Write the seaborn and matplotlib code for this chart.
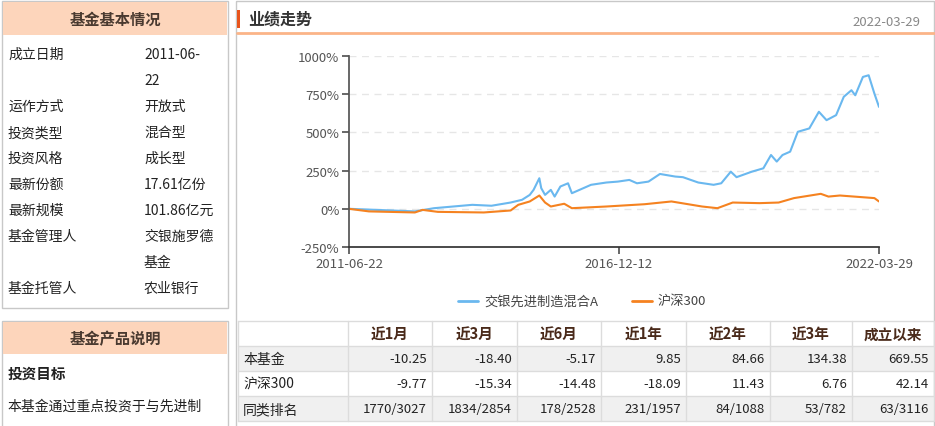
import matplotlib
matplotlib.use("Agg")
import matplotlib.pyplot as plt
import seaborn as sns
import pandas as pd
import numpy as np
from matplotlib.patches import Rectangle

sns.set_theme(style="white")
plt.rcParams['font.family'] = ['Noto Sans CJK SC', 'DejaVu Sans']

W, H = 935, 427
# --- data ---
info_labels = ["成立日期", "", "运作方式", "投资类型", "投资风格", "最新份额", "最新规模", "基金管理人", "", "基金托管人"]
info_values = ["2011-06-", "22", "开放式", "混合型", "成长型", "17.61亿份", "101.86亿元", "交银施罗德", "基金", "农业银行"]

fund_pos = [128,300,350,400,450,500,550,580,600,610,625,630,640,655,665,680,700,710,730,760,800,830,860,880,910,940,
            980,1000,1040,1080,1100,1125,1140,1180,1210,1230,1245,1260,1280,1300,1330,1355,1375,1400,1420,1440,1450,1470,1485,1500,1512]
fund_val = [0,-17,4,15,26,20,41,59,91,124,200,135,91,124,80,146,167,102,124,157,172,178,189,167,178,228,
            211,207,172,157,167,243,207,243,265,352,309,352,374,504,526,635,580,613,733,776,743,863,874,754,667]
idx_pos = [128,180,300,320,360,480,550,570,600,625,640,655,690,710,800,900,970,1050,1090,1130,1200,1250,1290,1360,1380,1410,1500,1512]
idx_val = [0,-17,-24,-7,-20,-24,-11,26,48,87,41,15,33,4,15,30,48,15,4,41,37,41,70,98,80,87,70,48]

periods = ["近1月", "近3月", "近6月", "近1年", "近2年", "近3年", "成立以来"]
row_names = ["本基金", "沪深300", "同类排名"]
fund_ret = ["-10.25", "-18.40", "-5.17", "9.85", "84.66", "134.38", "669.55"]
idx_ret = ["-9.77", "-15.34", "-14.48", "-18.09", "11.43", "6.76", "42.14"]
rank = ["1770/3027", "1834/2854", "178/2528", "231/1957", "84/1088", "53/782", "63/3116"]

start = pd.Timestamp("2011-06-22"); end = pd.Timestamp("2022-03-29")
span = (end - start)
def to_date(p):
    return [start + span * ((x - 128) / 1384) for x in p]

fig = plt.figure(figsize=(W/100, H/100), dpi=100)
bg = fig.add_axes([0, 0, 1, 1])
bg.set_xlim(0, W); bg.set_ylim(H, 0); bg.axis("off")

border = "#c8c8c8"
peach = "#fdd5bb"
# left box 1
bg.add_patch(Rectangle((2, 2), 226, 307, fill=False, ec=border, lw=1))
bg.add_patch(Rectangle((3, 3), 224, 33, color=peach, lw=0))
bg.text(115, 20, "基金基本情况", ha="center", va="center", fontsize=11, weight="bold", color="#4a3a30")
for i, (l, v) in enumerate(zip(info_labels, info_values)):
    y = 55 + 26 * i
    bg.text(8, y, l, va="center", fontsize=10, color="#222")
    bg.text(144, y, v, va="center", fontsize=10, color="#222")
# left box 2
bg.add_patch(Rectangle((2, 322), 226, 110, fill=False, ec=border, lw=1))
bg.add_patch(Rectangle((3, 323), 224, 32, color=peach, lw=0))
bg.text(115, 339, "基金产品说明", ha="center", va="center", fontsize=11, weight="bold", color="#4a3a30")
bg.text(8, 374, "投资目标", va="center", fontsize=10.5, weight="bold", color="#222")
bg.text(8, 407, "本基金通过重点投资于与先进制", va="center", fontsize=10, color="#222")

# right panel
bg.add_patch(Rectangle((236, 2), 698, 430, fill=False, ec=border, lw=1))
bg.add_patch(Rectangle((237, 11), 3, 18, color="#e8541c", lw=0))
bg.text(248, 20, "业绩走势", va="center", fontsize=11.5, weight="bold", color="#333")
bg.text(920, 22, "2022-03-29", va="center", ha="right", fontsize=9.5, color="#888")
bg.plot([237, 934], [34, 34], color="#fbb488", lw=2)

# legend
bg.plot([458, 478], [302, 302], color="#6ab8ef", lw=2)
bg.text(484, 302, "交银先进制造混合A", va="center", fontsize=9.5, color="#444")
bg.plot([632, 652], [302, 302], color="#f58220", lw=2)
bg.text(658, 302, "沪深300", va="center", fontsize=9.5, color="#444")

# table
cols = [238, 348, 432, 517, 601, 686, 770, 852, 934]
rows = [322, 347, 372, 397, 422]
bg.add_patch(Rectangle((238, 347), 696, 25, color="#f0f0f0", lw=0))
bg.add_patch(Rectangle((238, 397), 696, 25, color="#f0f0f0", lw=0))
for x in cols:
    bg.plot([x, x], [322, 422], color="#dcdcdc", lw=1)
for y in rows:
    bg.plot([238, 934], [y, y], color="#dcdcdc", lw=1)
for j, p in enumerate(periods):
    bg.text((cols[j+1] + cols[j+2]) / 2, 335, p, ha="center", va="center", fontsize=10.5, weight="bold", color="#4a2a1a")
for i, (name, vals) in enumerate(zip(row_names, [fund_ret, idx_ret, rank])):
    y = 360 + 25 * i
    bg.text(243, y, name, va="center", fontsize=10, color="#222")
    for j, v in enumerate(vals):
        bg.text(cols[j+2] - 5, y, v, ha="right", va="center", fontsize=9.5, color="#222")

# chart
ax = fig.add_axes([349/W, 1 - 248/H, (879-349)/W, (248-57)/H])
df = pd.concat([
    pd.DataFrame({"date": to_date(fund_pos), "val": fund_val, "s": "交银先进制造混合A"}),
    pd.DataFrame({"date": to_date(idx_pos), "val": idx_val, "s": "沪深300"}),
])
sns.lineplot(data=df, x="date", y="val", hue="s", palette=["#6ab8ef", "#f58220"], lw=1.5, ax=ax, legend=False)
ax.set_ylim(-250, 1000)
ax.set_xlim(start, end)
ax.set_yticks([-250, 0, 250, 500, 750, 1000])
ax.set_yticklabels([f"{v}%" for v in [-250, 0, 250, 500, 750, 1000]], fontsize=9.5, color="#555")
mid = pd.Timestamp("2016-12-12")
ax.set_xticks([start, mid, end])
ax.set_xticklabels(["2011-06-22", "2016-12-12", "2022-03-29"], fontsize=9.5, color="#555")
ax.set_xlabel(""); ax.set_ylabel("")
for y in [0, 250, 500, 750, 1000]:
    ax.axhline(y, color="#e6e6e6", lw=1, ls=(0, (5, 4)), zorder=0)
for s in ["top", "right"]:
    ax.spines[s].set_visible(False)
ax.spines["left"].set_color("#555"); ax.spines["bottom"].set_color("#333")
ax.tick_params(axis="both", length=5, color="#555", left=True, bottom=True, pad=2)
ax.set_facecolor("none")

fig.savefig("out.png", dpi=100)
